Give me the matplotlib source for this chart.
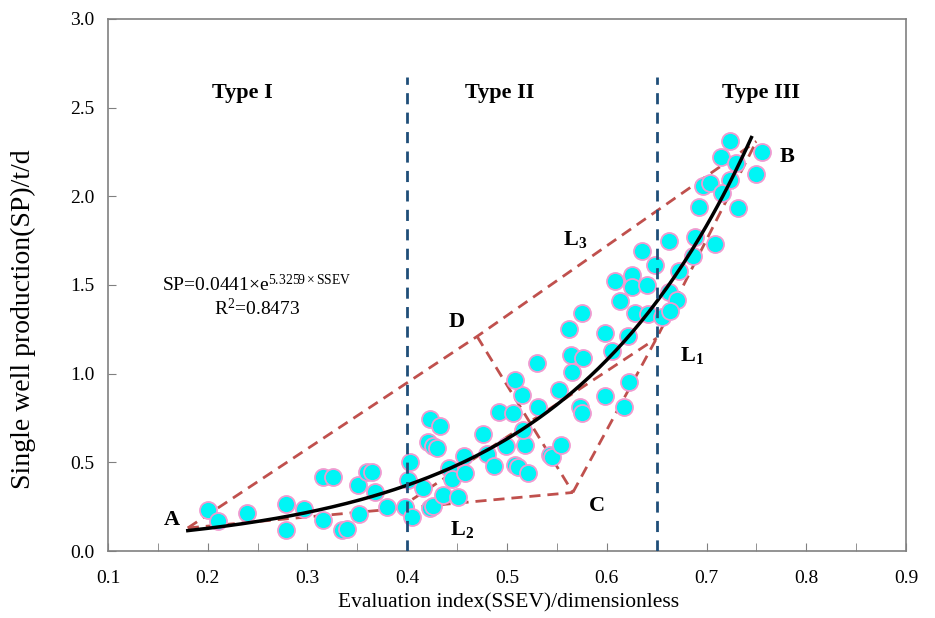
import numpy as np
import matplotlib
matplotlib.use('Agg')
import matplotlib.pyplot as plt

plt.rcParams['font.family'] = ['Liberation Serif', 'DejaVu Serif']
plt.rcParams['mathtext.fontset'] = 'custom'
plt.rcParams['mathtext.rm'] = 'Liberation Serif'
plt.rcParams['mathtext.it'] = 'Liberation Serif:italic'
plt.rcParams['mathtext.bf'] = 'Liberation Serif:bold'

# puntos medidos (SSEV, SP)
ssev = [0.200, 0.210, 0.239, 0.278, 0.278, 0.296, 0.316, 0.326, 0.316, 0.335,
        0.340, 0.351, 0.360, 0.365, 0.368, 0.352, 0.380, 0.398, 0.403, 0.401,
        0.405, 0.423, 0.433, 0.421, 0.426, 0.430, 0.416, 0.423, 0.426, 0.436,
        0.451, 0.442, 0.445, 0.457, 0.458, 0.476, 0.480, 0.487, 0.492, 0.499,
        0.506, 0.508, 0.511, 0.515, 0.508, 0.518, 0.516, 0.521, 0.531, 0.543,
        0.545, 0.554, 0.552, 0.573, 0.575, 0.598, 0.575, 0.562, 0.598, 0.530,
        0.564, 0.576, 0.565, 0.605, 0.621, 0.613, 0.608, 0.625, 0.625, 0.640,
        0.628, 0.641, 0.635, 0.648, 0.622, 0.617, 0.724, 0.715, 0.730, 0.756,
        0.750, 0.724, 0.696, 0.704, 0.716, 0.692, 0.732, 0.662, 0.688, 0.709,
        0.686, 0.672, 0.662, 0.670, 0.655, 0.663]
sp = [0.23, 0.17, 0.215, 0.265, 0.12, 0.235, 0.42, 0.42, 0.175, 0.12,
      0.125, 0.37, 0.445, 0.445, 0.33, 0.21, 0.25, 0.25, 0.50, 0.40,
      0.19, 0.745, 0.705, 0.615, 0.59, 0.58, 0.355, 0.24, 0.255, 0.315,
      0.305, 0.47, 0.405, 0.535, 0.44, 0.66, 0.545, 0.48, 0.785, 0.59,
      0.78, 0.485, 0.475, 0.88, 0.965, 0.60, 0.68, 0.44, 0.81, 0.54,
      0.53, 0.60, 0.91, 0.81, 0.78, 0.875, 1.34, 1.25, 1.23, 1.06,
      1.105, 1.09, 1.01, 1.13, 1.21, 1.41, 1.52, 1.555, 1.49, 1.50,
      1.34, 1.335, 1.69, 1.61, 0.955, 0.81, 2.31, 2.22, 2.19, 2.25,
      2.125, 2.09, 2.06, 2.075, 2.02, 1.94, 1.935, 1.75, 1.77, 1.73,
      1.665, 1.58, 1.46, 1.415, 1.32, 1.355]

# ajuste exponencial
coef_a = 0.0441
coef_b = 5.3259
x_ini, x_fin = 0.18, 0.745

# vertices de las lineas auxiliares
pts = {'A': (0.18, 0.13), 'B': (0.75, 2.31), 'C': (0.566, 0.33),
       'D': (0.47, 1.21), 'E': (0.65, 1.20), 'F': (0.39, 0.235)}
tramos = [['A', 'D', 'B'], ['A', 'C'], ['C', 'E', 'B'], ['F', 'E'], ['D', 'C']]

limites = [0.4, 0.65]

fig = plt.figure(figsize=(9.35, 6.18), dpi=100)
ax = fig.add_axes([0.1155, 0.1084, 0.8535, 0.8609])

rojo = '#C0504D'
for t in tramos:
    xs = [pts[k][0] for k in t]
    ys = [pts[k][1] for k in t]
    ax.plot(xs, ys, color=rojo, lw=2, dashes=(4, 2.5), zorder=2)

ax.scatter(ssev, sp, s=150, c='#00F5F5', edgecolors='#F09AD0', linewidths=1.3, zorder=3)

xc = np.linspace(x_ini, x_fin, 200)
ax.plot(xc, coef_a * np.exp(coef_b * xc), color='black', lw=2.5, zorder=4)

for xl in limites:
    ax.plot([xl, xl], [0, 2.67], color='#1F4E79', lw=2, dashes=(4, 3), zorder=5)

ax.set_xlim(0.1, 0.9)
ax.set_ylim(0, 3.0)
ax.set_xticks(np.arange(0.1, 0.91, 0.1))
ax.set_xticks(np.arange(0.15, 0.9, 0.1), minor=True)
ax.set_yticks(np.arange(0, 3.01, 0.5))
ax.xaxis.set_major_formatter(matplotlib.ticker.FormatStrFormatter('%.1f'))
ax.yaxis.set_major_formatter(matplotlib.ticker.FormatStrFormatter('%.1f'))
ax.tick_params(direction='in', length=6, color='#808080', labelsize=14, pad=10)
ax.tick_params(axis='x', pad=14)
ax.tick_params(axis='x', which='minor', direction='in', length=6, color='#808080')
for s in ax.spines.values():
    s.set_color('#808080')
    s.set_linewidth(1.2)

ax.set_xlabel('Evaluation index(SSEV)/dimensionless', fontsize=15.5, va='center')
ax.xaxis.set_label_coords(0.502, -0.098)
ax.set_ylabel('Single well production(SP)/t/d', fontsize=20, va='center')
ax.yaxis.set_label_coords(-0.106, 0.435)

ax.text(0.235, 2.58, 'Type I', fontsize=16, fontweight='bold', ha='center', va='center')
ax.text(0.493, 2.58, 'Type II', fontsize=16, fontweight='bold', ha='center', va='center')
ax.text(0.755, 2.58, 'Type III', fontsize=16, fontweight='bold', ha='center', va='center')

ax.text(0.249, 1.50, r'SP=0.0441$\times$e$^{5.3259\times \mathrm{SSEV}}$', fontsize=14,
        ha='center', va='center')
ax.text(0.25, 1.365, r'R$^2$=0.8473', fontsize=14, ha='center', va='center')

etiquetas = [('A', 0.164, 0.175), ('B', 0.781, 2.22), ('C', 0.59, 0.255),
             ('D', 0.45, 1.29), (r'L$_\mathbf{1}$', 0.685, 1.10),
             (r'L$_\mathbf{2}$', 0.455, 0.12), (r'L$_\mathbf{3}$', 0.568, 1.755)]
for txt, x, y in etiquetas:
    ax.text(x, y, txt, fontsize=16, fontweight='bold', ha='center', va='center')

fig.savefig('out.png', dpi=100)
